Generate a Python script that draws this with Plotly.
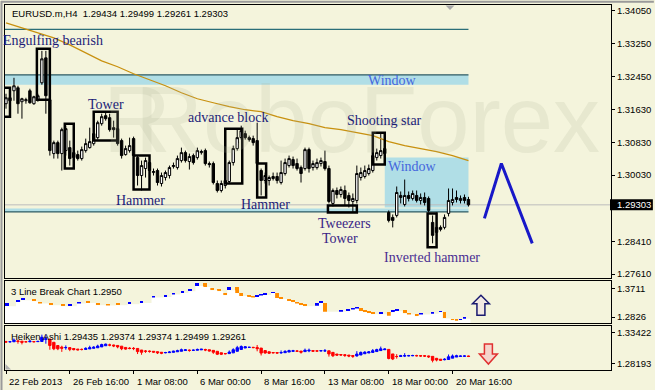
import plotly.graph_objects as go

W, H = 655, 390
ML, MR, MT, MB = 4, 43, 4, 20
BG = "#F4F4DC"

# ---------------- data ----------------
time_labels = ["22 Feb 2013", "26 Feb 16:00", "1 Mar 08:00", "6 Mar 00:00",
               "8 Mar 16:00", "13 Mar 08:00", "18 Mar 00:00", "20 Mar 16:00"]
time_label_bars = [0, 16, 32, 48, 64, 80, 96, 112]

opens = [1.31777, 1.31923, 1.32094, 1.32167, 1.31826, 1.31850, 1.32094, 1.31777, 1.31874, 1.32289,
         1.32899, 1.31874, 1.30557, 1.30825, 1.30557, 1.30630, 1.30703, 1.30581, 1.30532, 1.30435,
         1.30630, 1.30703, 1.30801, 1.30947, 1.31289, 1.31484, 1.31435, 1.31191, 1.31167, 1.30874,
         1.30532, 1.30630, 1.30923, 1.30459, 1.30020, 1.30191, 1.30337, 1.30093, 1.30142, 1.29825,
         1.29971, 1.30020, 1.30240, 1.30215, 1.30386, 1.30581, 1.30362, 1.30508, 1.30459, 1.30581,
         1.30630, 1.30313, 1.30313, 1.29825, 1.29654, 1.29776, 1.29874, 1.30337, 1.30679, 1.30947,
         1.31045, 1.30947, 1.30923, 1.30874, 1.30142, 1.29898, 1.29898, 1.29947, 1.29996, 1.29849,
         1.30069, 1.30264, 1.30410, 1.30313, 1.30215, 1.30191, 1.30654, 1.30215, 1.30215, 1.30313,
         1.30362, 1.30191, 1.29337, 1.29654, 1.29556, 1.29654, 1.29532, 1.29386, 1.29410, 1.29971,
         1.29996, 1.30069, 1.30142, 1.30459, 1.30508, 1.30679, 1.29117, 1.28995, 1.29044, 1.29483,
         1.29312, 1.29532, 1.29459, 1.29532, 1.29410, 1.29483, 1.29459, 1.28873, 1.28629, 1.28751,
         1.28751, 1.29093, 1.29361, 1.29483, 1.29410, 1.29483, 1.29434]
highs = [1.32021, 1.31972, 1.32411, 1.32216, 1.31923, 1.31923, 1.32143, 1.31972, 1.32021, 1.33070,
         1.33070, 1.31899, 1.30874, 1.30874, 1.31191, 1.31240, 1.30874, 1.30679, 1.30630, 1.30728,
         1.30923, 1.31191, 1.31118, 1.31362, 1.31533, 1.31557, 1.31533, 1.31362, 1.31240, 1.30923,
         1.30752, 1.30947, 1.30972, 1.30508, 1.30386, 1.30459, 1.30386, 1.30191, 1.30191, 1.30093,
         1.30142, 1.30264, 1.30337, 1.30508, 1.30703, 1.30630, 1.30557, 1.30557, 1.30703, 1.30654,
         1.30679, 1.30362, 1.30362, 1.29898, 1.29898, 1.29947, 1.30386, 1.30752, 1.31167, 1.31240,
         1.31118, 1.30996, 1.30996, 1.31313, 1.30191, 1.30093, 1.30020, 1.30093, 1.30093, 1.30386,
         1.30435, 1.30508, 1.30484, 1.30435, 1.30264, 1.30703, 1.30703, 1.30386, 1.30435, 1.30459,
         1.30630, 1.30264, 1.29703, 1.29727, 1.29752, 1.29776, 1.29605, 1.29581, 1.30264, 1.30215,
         1.30264, 1.30288, 1.30630, 1.30679, 1.31045, 1.30752, 1.29166, 1.29068, 1.29752, 1.29630,
         1.29922, 1.29630, 1.29654, 1.29654, 1.29581, 1.29605, 1.29508, 1.29044, 1.29117, 1.28800,
         1.29068, 1.29703, 1.29703, 1.29654, 1.29532, 1.29556, 1.29499]
lows = [1.31655, 1.31752, 1.31850, 1.31533, 1.31411, 1.31777, 1.31777, 1.31752, 1.31826, 1.32240,
        1.31533, 1.30508, 1.30435, 1.30435, 1.30142, 1.30508, 1.30264, 1.30386, 1.30386, 1.30386,
        1.30581, 1.30679, 1.30752, 1.30898, 1.31240, 1.31362, 1.31094, 1.30947, 1.30752, 1.30435,
        1.30508, 1.30581, 1.30435, 1.29776, 1.29654, 1.29971, 1.30020, 1.30020, 1.29776, 1.29752,
        1.29898, 1.29947, 1.30191, 1.30166, 1.30337, 1.30337, 1.30166, 1.30288, 1.30410, 1.30532,
        1.30264, 1.30215, 1.29801, 1.29605, 1.29605, 1.29703, 1.29825, 1.30264, 1.30630, 1.30898,
        1.30898, 1.30850, 1.30752, 1.30240, 1.29532, 1.29825, 1.29776, 1.29898, 1.29825, 1.29801,
        1.30020, 1.30215, 1.30191, 1.30142, 1.29849, 1.30142, 1.30093, 1.30142, 1.30166, 1.30240,
        1.30142, 1.29337, 1.29264, 1.29459, 1.29483, 1.29288, 1.29239, 1.29117, 1.29337, 1.29898,
        1.29947, 1.30020, 1.30093, 1.30386, 1.30435, 1.30484, 1.28873, 1.28751, 1.28995, 1.29337,
        1.29264, 1.29386, 1.29410, 1.29361, 1.29312, 1.29288, 1.29117, 1.28361, 1.28532, 1.28654,
        1.28703, 1.29020, 1.29288, 1.29361, 1.29337, 1.29337, 1.29261]
closes = [1.31923, 1.31850, 1.32216, 1.31777, 1.31899, 1.31874, 1.31801, 1.31948, 1.31972, 1.32875,
          1.31972, 1.30630, 1.30825, 1.30557, 1.31142, 1.31167, 1.30435, 1.30459, 1.30435, 1.30654,
          1.30801, 1.30850, 1.31045, 1.31313, 1.31460, 1.31411, 1.31142, 1.31142, 1.30801, 1.30508,
          1.30679, 1.30752, 1.30508, 1.30020, 1.30264, 1.30386, 1.30142, 1.30118, 1.29849, 1.30020,
          1.30093, 1.30215, 1.30264, 1.30435, 1.30581, 1.30386, 1.30484, 1.30337, 1.30630, 1.30606,
          1.30313, 1.30288, 1.29849, 1.29654, 1.29825, 1.29898, 1.30337, 1.30679, 1.30947, 1.31118,
          1.30947, 1.30898, 1.30825, 1.30313, 1.29898, 1.30020, 1.29971, 1.29996, 1.29898, 1.30093,
          1.30337, 1.30435, 1.30264, 1.30191, 1.30069, 1.30654, 1.30191, 1.30313, 1.30337, 1.30386,
          1.30191, 1.29386, 1.29654, 1.29556, 1.29679, 1.29459, 1.29410, 1.29459, 1.30069, 1.30093,
          1.30142, 1.30191, 1.30508, 1.30581, 1.30630, 1.30557, 1.28922, 1.28922, 1.29605, 1.29532,
          1.29532, 1.29459, 1.29581, 1.29410, 1.29483, 1.29361, 1.29166, 1.28556, 1.28751, 1.28703,
          1.28995, 1.29410, 1.29434, 1.29434, 1.29459, 1.29410, 1.29303]
bars = list(range(len(closes)))

# moving average read every 4 bars
ma_bars = list(range(0, 117, 4))
ma_vals = [1.33753, 1.33631, 1.33509, 1.33387, 1.33216, 1.33021, 1.32826, 1.32680, 1.32509, 1.32362,
           1.32216, 1.32045, 1.31899, 1.31801, 1.31704, 1.31630, 1.31582, 1.31460, 1.31362, 1.31289,
           1.31191, 1.31142, 1.31069, 1.30996, 1.30850, 1.30752, 1.30679, 1.30606, 1.30508, 1.30386]

# 3 line break bricks
brick_bars = [0.25, 3, 4.25, 7, 8.5, 11.25, 14.25, 16, 18.25, 20.5, 23, 25.5, 28, 31, 34, 37, 40, 42,
              44.25, 46.25, 48, 50, 51.75, 53.5, 55, 56, 58, 59, 61, 62, 63, 64, 65, 67, 68, 69, 71,
              72, 73, 74, 75, 78, 79, 80, 84, 85.75, 87, 88, 89, 90, 91, 92, 94, 96, 97, 98, 100,
              101, 103, 104, 107, 109, 110, 112, 113, 114, 115]
brick_hi = [1.32627, 1.3345, 1.33969, 1.3345, 1.32932, 1.32444, 1.31925, 1.3223, 1.32932, 1.32932,
            1.32627, 1.32139, 1.3223, 1.32627, 1.33237, 1.3467, 1.35067, 1.35494, 1.35982, 1.3650,
            1.38544, 1.38544, 1.37019, 1.3650, 1.35494, 1.37507, 1.37415, 1.35494, 1.3467, 1.34457,
            1.34762, 1.35189, 1.35494, 1.35799, 1.35494, 1.34152, 1.33664, 1.33145, 1.3284, 1.32444,
            1.31925, 1.32444, 1.33054, 1.32627, 1.30095, 1.3040, 1.30919, 1.31224, 1.30919, 1.30095,
            1.2979, 1.29485, 1.29699, 1.29699, 1.30095, 1.3040, 1.3040, 1.29394, 1.29089, 1.29394,
            1.29699, 1.30004, 1.29699, 1.27564, 1.2735, 1.27564, 1.28174]
brick_lo = [1.3162, 1.32932, 1.3345, 1.33145, 1.32444, 1.31925, 1.3162, 1.3162, 1.32444, 1.32627,
            1.31925, 1.31834, 1.31925, 1.3223, 1.32627, 1.34274, 1.34457, 1.35189, 1.35677, 1.36195,
            1.37812, 1.37507, 1.3650, 1.36195, 1.34975, 1.3650, 1.35585, 1.34762, 1.34457, 1.34274,
            1.34457, 1.34884, 1.35067, 1.35677, 1.34152, 1.33847, 1.33237, 1.3284, 1.32444, 1.31925,
            1.3162, 1.31712, 1.32627, 1.29882, 1.29882, 1.30095, 1.30614, 1.30919, 1.30095, 1.2979,
            1.29485, 1.2918, 1.2918, 1.28662, 1.2979, 1.30095, 1.29394, 1.29089, 1.2857, 1.29089,
            1.29272, 1.2979, 1.27869, 1.2735, 1.27137, 1.2735, 1.27747]
brick_dir = ("UUU" "DDDD" "UU" "DDDD" "UUUUUUUU" "DDDD" "U" "DDDD" "UUUU" "DDDDDDD" "UU" "D"
             "UUUU" "DDDD" "U" "D" "UU" "DDD" "UUU" "DDD" "UU")

# annotation objects (bar index, price)
level_top = 1.33595
window1 = (1.32240, 1.32484)
window_band2 = (1.29130, 1.29215)
window_box2 = (95, 1.29239, 1.30459)
last_price = 1.29303
zigzag_bars = [120, 124.25, 132]
zigzag_vals = [1.28971, 1.30313, 1.28361]

pattern_boxes = [(-0.6, 1.0, 1.31460, 1.32167), (7.75, 11.0, 1.31874, 1.33119),
                 (14.75, 17.0, 1.30191, 1.31289), (22.0, 28.0, 1.30874, 1.31582),
                 (32.0, 36.0, 1.29678, 1.30508), (55.0, 59.25, 1.29825, 1.31167),
                 (63.0, 65.25, 1.29483, 1.30313), (80.75, 88.0, 1.29117, 1.29288),
                 (92.0, 95.0, 1.30288, 1.31069), (105.75, 108.0, 1.28263, 1.29093)]
pattern_labels = [("Engulfing bearish", 11.75, 1.33314, "#1c1c78"),
                  ("Tower", 25.0, 1.31752, "#1c1c78"),
                  ("advance block", 55.75, 1.31435, "#1c1c78"),
                  ("Shooting star", 95.0, 1.31362, "#1c1c78"),
                  ("Hammer", 33.75, 1.29410, "#1c1c78"),
                  ("Hammer", 65.0, 1.29312, "#1c1c78"),
                  ("Tweezers", 85.0, 1.28849, "#3a1e86"),
                  ("Tower", 83.75, 1.28483, "#3a1e86"),
                  ("Inverted hammer", 106.75, 1.28019, "#4a2e92")]
window_labels = [("Window", 97.0, 1.32338), ("Window", 102.0, 1.30240)]

main_ticks = [1.34050, 1.33250, 1.32450, 1.31630, 1.30830, 1.30030, 1.28410, 1.27610]
lb_ticks = [1.3711, 1.2826]
ha_ticks = [1.33422, 1.28193]

# ---------------- helpers ----------------
PW = W - ML - MR
PH = H - MT - MB


def px(x):
    return (x - ML) / PW


def py(y):
    return 1 - (y - MT) / PH


def path(points):
    s = "M " + " L ".join(f"{px(a):.5f},{py(b):.5f}" for a, b in points) + " Z"
    return s


# Heiken Ashi derived from the OHLC above
ha_c = [(o + h + l + c) / 4 for o, h, l, c in zip(opens, highs, lows, closes)]
ha_o = [(opens[0] + closes[0]) / 2]
for k in range(1, len(closes)):
    ha_o.append((ha_o[k - 1] + ha_c[k - 1]) / 2)
ha_h = [max(h, a, b) for h, a, b in zip(highs, ha_o, ha_c)]
ha_l = [min(l, a, b) for l, a, b in zip(lows, ha_o, ha_c)]

fig = go.Figure()

# main candles
fig.add_trace(go.Candlestick(
    x=bars, open=opens, high=highs, low=lows, close=closes,
    increasing=dict(line=dict(color="black", width=1), fillcolor="white"),
    decreasing=dict(line=dict(color="black", width=1), fillcolor="black"),
    whiskerwidth=0, xaxis="x", yaxis="y", hoverinfo="skip"))
fig.add_trace(go.Scatter(x=ma_bars, y=ma_vals, mode="lines",
                         line=dict(color="#C8900E", width=1.2), xaxis="x", yaxis="y", hoverinfo="skip"))
fig.add_trace(go.Scatter(x=zigzag_bars, y=zigzag_vals, mode="lines",
                         line=dict(color="#1818C8", width=3), xaxis="x", yaxis="y", hoverinfo="skip"))

# 3 line break
wx = [-1] + [b - 0.5 for b in brick_bars[1:]] + [116.5]
wy = [brick_lo[0]] + brick_lo[1:] + [brick_lo[-1]]
fig.add_trace(go.Scatter(x=wx, y=wy, mode="lines", line=dict(width=0, shape="hv"),
                         fill="tozeroy", fillcolor="white", xaxis="x2", yaxis="y2", hoverinfo="skip"))
fig.add_trace(go.Bar(x=brick_bars, y=[h - l for h, l in zip(brick_hi, brick_lo)], base=brick_lo,
                     width=0.95,
                     marker=dict(color=["#0000FF" if d == "U" else "#FF8C00" for d in brick_dir],
                                 line=dict(width=0)),
                     xaxis="x2", yaxis="y2", hoverinfo="skip"))

# Heiken Ashi
fig.add_trace(go.Candlestick(
    x=bars, open=ha_o, high=ha_h, low=ha_l, close=ha_c,
    increasing=dict(line=dict(color="#0000FF", width=1), fillcolor="#0000FF"),
    decreasing=dict(line=dict(color="#FF0000", width=1), fillcolor="#FF0000"),
    whiskerwidth=0, xaxis="x3", yaxis="y3", hoverinfo="skip"))

shapes = []
LB = "#B0DEE6"
DL = "#2E5A62"
# bands / windows
shapes.append(dict(type="rect", xref="x", yref="y", x0=-1, x1=116, y0=window1[0], y1=window1[1],
                   fillcolor=LB, line=dict(width=0), layer="below"))
shapes.append(dict(type="line", xref="x", yref="y", x0=-1, x1=116, y0=window1[1], y1=window1[1],
                   line=dict(color=DL, width=1.2), layer="below"))
shapes.append(dict(type="line", xref="x", yref="y", x0=-1, x1=116, y0=level_top, y1=level_top,
                   line=dict(color="#2A6E78", width=1.2), layer="below"))
shapes.append(dict(type="rect", xref="x", yref="y", x0=window_box2[0], x1=116,
                   y0=window_box2[1], y1=window_box2[2], fillcolor=LB, line=dict(width=0), layer="below"))
shapes.append(dict(type="rect", xref="x", yref="y", x0=-1, x1=116, y0=window_band2[0], y1=window_band2[1],
                   fillcolor=LB, line=dict(width=0), layer="below"))
shapes.append(dict(type="line", xref="x", yref="y", x0=-1, x1=200, y0=last_price, y1=last_price,
                   line=dict(color="#BDBDBD", width=1), layer="below"))
shapes.append(dict(type="line", xref="x", yref="y", x0=-1, x1=116, y0=window_band2[0], y1=window_band2[0],
                   line=dict(color=DL, width=1.2), layer="below"))
# pattern boxes
for x0, x1, y0, y1 in pattern_boxes:
    shapes.append(dict(type="rect", xref="x", yref="y", x0=x0, x1=x1, y0=y0, y1=y1,
                       line=dict(color="black", width=2.5), fillcolor="rgba(0,0,0,0)", layer="above"))
# price tag on axis
shapes.append(dict(type="rect", xref="paper", yref="y", x0=px(611), x1=px(654),
                   y0=last_price - 0.00135, y1=last_price + 0.00135, fillcolor="black",
                   line=dict(width=0)))
# arrows
shapes.append(dict(type="path", xref="paper", yref="paper",
                   path=path([(481.5, 295), (490, 303.5), (485.5, 303.5), (485.5, 315),
                              (477.5, 315), (477.5, 303.5), (473, 303.5)]),
                   line=dict(color="#1A1A70", width=1.5), fillcolor="rgba(240,225,230,0.6)"))
shapes.append(dict(type="path", xref="paper", yref="paper",
                   path=path([(485, 344), (493, 344), (493, 354), (498, 354), (489, 364),
                              (480, 354), (485, 354)]),
                   line=dict(color="#E03030", width=1.5), fillcolor="rgba(245,205,200,0.8)"))
# small chart-shift triangles
shapes.append(dict(type="path", xref="paper", yref="paper",
                   path=path([(446, 4.5), (455, 4.5), (450.5, 9)]),
                   line=dict(width=0), fillcolor="#A8A8A8"))
shapes.append(dict(type="path", xref="paper", yref="paper",
                   path=path([(4.5, 364), (4.5, 369.5), (10, 369.5)]),
                   line=dict(width=0), fillcolor="#B0B0B0"))
# window frame lines
shapes.append(dict(type="line", xref="paper", yref="paper", x0=px(0.5), x1=px(0.5), y0=py(0), y1=py(390),
                   line=dict(color="#9A9A9A", width=2)))
shapes.append(dict(type="line", xref="paper", yref="paper", x0=px(0), x1=px(655), y0=py(0.8), y1=py(0.8),
                   line=dict(color="#9A9A9A", width=2)))

ann = []
# watermark
ann.append(dict(text="R", xref="paper", yref="paper", x=px(100), y=py(64), showarrow=False,
                font=dict(family="Liberation Sans", size=94, color="rgba(170,180,150,0.18)")))
ann.append(dict(text="RoboForex", xref="paper", yref="paper", x=px(368), y=py(64), showarrow=False,
                font=dict(family="Liberation Sans", size=94, color="rgba(170,180,150,0.18)")))
for t, bx, v, c in pattern_labels:
    ann.append(dict(text=t, xref="x", yref="y", x=bx, y=v, showarrow=False,
                    font=dict(family="Liberation Serif", size=14, color=c)))
for t, bx, v in window_labels:
    ann.append(dict(text=t, xref="x", yref="y", x=bx, y=v, showarrow=False,
                    font=dict(family="Liberation Serif", size=14, color="#4466DD")))
SF = "Liberation Sans"
ann.append(dict(text="EURUSD.m,H4 \u00a01.29434 1.29499 1.29261 1.29303", xref="paper", yref="paper",
                x=px(9), y=py(13), xanchor="left", yanchor="middle", showarrow=False,
                font=dict(family=SF, size=9.5, color="black")))
ann.append(dict(text="3 Line Break Chart 1.2950", xref="paper", yref="paper",
                x=px(8), y=py(291), xanchor="left", yanchor="middle", showarrow=False,
                font=dict(family=SF, size=9.5, color="black")))
ann.append(dict(text="Heiken Ashi 1.29435 1.29374 1.29374 1.29499 1.29261", xref="paper", yref="paper",
                x=px(8), y=py(336), xanchor="left", yanchor="middle", showarrow=False,
                font=dict(family=SF, size=9.5, color="black")))
ann.append(dict(text="1.29303", xref="paper", yref="y", x=px(616), y=last_price, xanchor="left",
                yanchor="middle", showarrow=False, font=dict(family=SF, size=9.5, color="white")))
for lab, b in zip(time_labels, time_label_bars):
    ann.append(dict(text=lab, xref="x3", yref="paper", x=b, y=py(374), xanchor="left", yanchor="top",
                    xshift=1, showarrow=False, font=dict(family=SF, size=9.5, color="black")))

xr = [-0.25, 151.75]
axx = dict(range=xr, showgrid=False, zeroline=False, showline=True, mirror=True,
           linecolor="black", linewidth=1, showticklabels=False, ticks="", fixedrange=True)
axy = dict(side="right", showgrid=False, zeroline=False, showline=True, mirror=True,
           linecolor="black", linewidth=1, ticks="outside", ticklen=3, tickcolor="black",
           tickfont=dict(family=SF, size=9.5, color="black"))

fig.update_layout(
    width=W, height=H, margin=dict(l=ML, r=MR, t=MT, b=MB),
    paper_bgcolor=BG, plot_bgcolor=BG, showlegend=False, bargap=0, boxgap=0.15,
    xaxis=dict(axx, domain=[0, 1], anchor="y", rangeslider=dict(visible=False)),
    xaxis2=dict(axx, domain=[0, 1], anchor="y2", matches="x"),
    xaxis3=dict(axx, domain=[0, 1], anchor="y3", matches="x", ticks="outside", ticklen=3,
                tickvals=time_label_bars, tickcolor="black", rangeslider=dict(visible=False)),
    yaxis=dict(axy, domain=[py(278), 1], anchor="x", range=[1.27507, 1.34192],
               tickvals=main_ticks, ticktext=[f"{v:.5f}" for v in main_ticks]),
    yaxis2=dict(axy, domain=[py(323), py(281)], anchor="x2", range=[1.26435, 1.39245],
                tickvals=lb_ticks, ticktext=[f"{v:.4f}" for v in lb_ticks]),
    yaxis3=dict(axy, domain=[0, py(326)], anchor="x3", range=[1.27063, 1.3452],
                tickvals=ha_ticks, ticktext=[f"{v:.5f}" for v in ha_ticks]),
    shapes=shapes, annotations=ann,
)

fig.write_html("out.html", config={"displayModeBar": False},
               post_script="document.body.style.margin='0';document.body.style.padding='0';"
                           "document.body.style.background='" + BG + "';")
